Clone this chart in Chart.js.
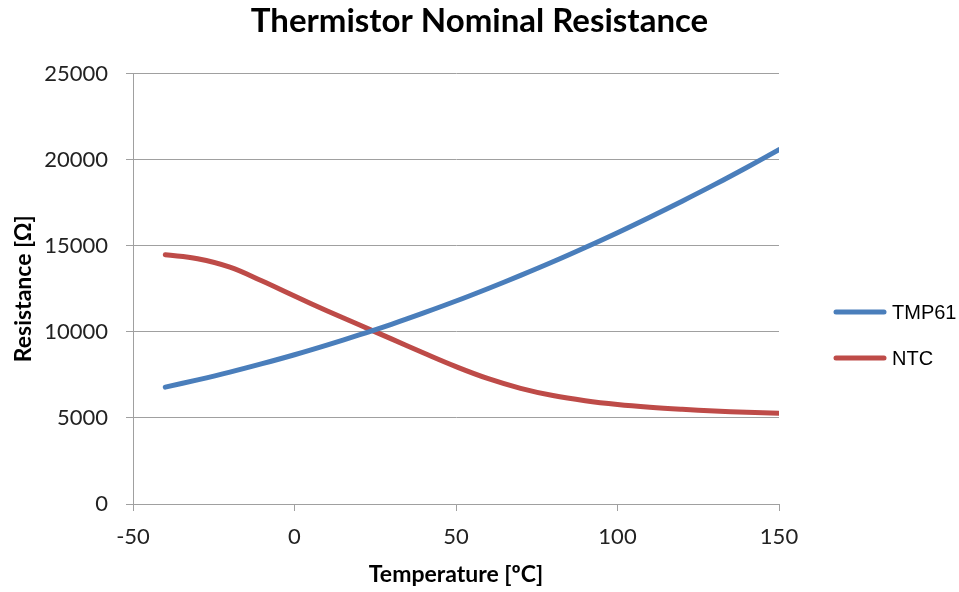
<!DOCTYPE html>
<html>
<head>
<meta charset="utf-8">
<title>Thermistor Nominal Resistance</title>
<script src="https://cdn.jsdelivr.net/npm/chart.js@4.4.1/dist/chart.umd.min.js"></script>
<style>
  html, body { margin: 0; padding: 0; background: #fff; }
</style>
</head>
<body>
<canvas id="thermistor-chart" width="959" height="592"></canvas>
<script>
// temperature in degC, resistance in ohm
var temperatures = [-40, -30, -20, -10, 0, 10, 20, 30, 40, 50, 60, 70, 80, 90, 100, 110, 120, 130, 140, 150];
var tmp61Values = [6790, 7210, 7660, 8150, 8670, 9230, 9820, 10440, 11100, 11790, 12520, 13280, 14070, 14900, 15760, 16660, 17590, 18550, 19550, 20580];
var ntcValues = [14480, 14250, 13760, 12950, 12080, 11230, 10410, 9590, 8770, 7980, 7280, 6720, 6300, 6000, 5780, 5620, 5500, 5405, 5330, 5270];
var seriesNames = ['TMP61', 'NTC'];
var xTicks = [-50, 0, 50, 100, 150];
var yTicks = [0, 5000, 10000, 15000, 20000, 25000];

function toPoints(values) {
  return temperatures.map(function (t, i) { return { x: t, y: values[i] }; });
}

var tickFont = { family: 'Lato', size: 22 };
var titleFont = { family: 'Lato', size: 23, weight: 'bold' };

// legend drawn at the right like the original (line sample + label)
var sideLegend = {
  id: 'sideLegend',
  afterDraw: function (chart) {
    var ctx = chart.ctx;
    var rows = [312, 358];
    chart.data.datasets.forEach(function (ds, i) {
      var y = rows[i];
      ctx.save();
      ctx.strokeStyle = ds.borderColor;
      ctx.lineWidth = 5;
      ctx.lineCap = 'round';
      ctx.beginPath();
      ctx.moveTo(836, y);
      ctx.lineTo(884, y);
      ctx.stroke();
      ctx.fillStyle = '#000';
      ctx.font = '20px "Liberation Sans"';
      ctx.textBaseline = 'middle';
      ctx.fillText(ds.label, 892, y + 1);
      ctx.restore();
    });
  }
};

var ctx = document.getElementById('thermistor-chart').getContext('2d');
var thermistorChart = new Chart(ctx, {
  type: 'line',
  data: {
    datasets: [{
      label: seriesNames[0],
      data: toPoints(tmp61Values),
      borderColor: '#4A7EBB',
      borderWidth: 5,
      pointRadius: 0,
      tension: 0.4,
      borderCapStyle: 'round'
    }, {
      label: seriesNames[1],
      data: toPoints(ntcValues),
      borderColor: '#BE4B48',
      borderWidth: 5,
      pointRadius: 0,
      tension: 0.4,
      borderCapStyle: 'round'
    }]
  },
  options: {
    responsive: false,
    animation: false,
    layout: { padding: 0 },
    plugins: {
      legend: { display: false },
      tooltip: { enabled: false },
      title: {
        display: true,
        text: 'Thermistor Nominal Resistance',
        color: '#000',
        font: { family: 'Lato', size: 33, weight: 'bold' },
        padding: { top: 2, bottom: 32 }
      }
    },
    scales: {
      x: {
        type: 'linear',
        min: -50,
        max: 150,
        afterBuildTicks: function (s) { s.ticks = xTicks.map(function (v) { return { value: v }; }); },
        afterFit: function (s) { s.height = 88; },
        ticks: { font: tickFont, color: '#222', padding: 13, maxRotation: 0 },
        grid: { drawOnChartArea: false, drawTicks: true, tickLength: 7, color: '#a0a0a0' },
        border: { color: '#a0a0a0' },
        title: { display: true, text: 'Temperature [ºC]', color: '#000', font: titleFont, padding: { top: 4, bottom: 4 } }
      },
      y: {
        min: 0,
        max: 25000,
        afterBuildTicks: function (s) { s.ticks = yTicks.map(function (v) { return { value: v }; }); },
        afterFit: function (s) { s.width = 133; },
        ticks: { font: tickFont, color: '#222', padding: 18, callback: function (v) { return String(v); } },
        grid: { color: '#a0a0a0', tickLength: 7 },
        border: { color: '#a0a0a0' },
        title: { display: true, text: 'Resistance [Ω]', color: '#000', font: titleFont, padding: { top: 10, bottom: 0 } }
      },
      // empty right-hand axis that only reserves the room for the legend
      spacer: {
        type: 'linear',
        position: 'right',
        display: true,
        afterFit: function (s) { s.width = 180; },
        ticks: { display: false },
        grid: { display: false },
        border: { display: false }
      }
    }
  },
  plugins: [sideLegend]
});
</script>
</body>
</html>
